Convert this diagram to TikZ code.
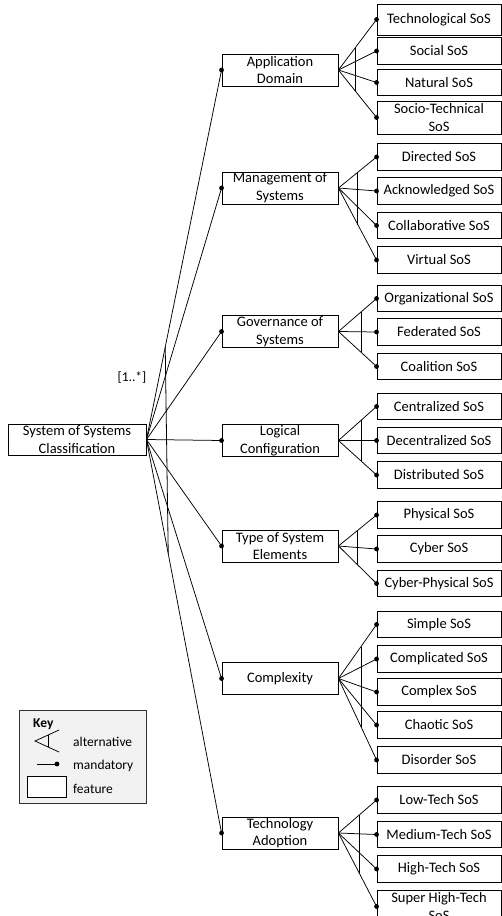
\documentclass[tikz,border=0pt]{standalone}
\usepackage{fontspec}
\setmainfont{Carlito}
\usetikzlibrary{calc}
\definecolor{keyfill}{RGB}{242,242,242}
\begin{document}
\begin{tikzpicture}[x=1pt,y=-1pt,
  feat/.style={draw=black, line width=0.9pt, fill=white, inner sep=0pt, align=center,
               font=\fontsize{14.5}{17.7}\selectfont},
  rootbox/.style={feat, minimum width=138pt, minimum height=31pt},
  midbox/.style={feat, minimum width=116pt, minimum height=32pt},
  leafbox/.style={feat, minimum width=124pt, minimum height=26.5pt},
  tallleaf/.style={leafbox, minimum height=33pt},
  link/.style={line width=0.75pt},
  altbar/.style={line width=0.8pt},
  keytext/.style={inner sep=0pt, anchor=west, font=\fontsize{13.5}{16}\selectfont}
]
\useasboundingbox (0,0) rectangle (501,916);

% root feature
\node[rootbox] (root) at (77,439.5) {System of Systems\\Classification};
\node[inner sep=0pt, font=\fontsize{13.5}{16}\selectfont] (card) at (132,378) {[1..*]};

% second level
\node[midbox] (pA) at (280,70)    {Application\\Domain};
\node[midbox] (pB) at (280,188)   {Management of\\Systems};
\node[midbox] (pC) at (280,331.5) {Governance of\\Systems};
\node[midbox] (pD) at (280,440.5) {Logical\\Configuration};
\node[midbox] (pE) at (280,546)   {Type of System\\Elements};
\node[midbox] (pF) at (280,678.5) {Complexity};
\node[midbox] (pG) at (280,833)   {Technology\\Adoption};

% leaves: application domain
\node[leafbox, minimum height=31pt] (a1) at (439,19.5) {Technological SoS};
\node[leafbox] (a2) at (439,51)   {Social SoS};
\node[leafbox] (a3) at (439,82.5) {Natural SoS};
\node[tallleaf] (a4) at (439,117.5) {Socio-Technical\\SoS};
% leaves: management
\node[leafbox] (b1) at (439,157)   {Directed SoS};
\node[leafbox] (b2) at (439,191)   {Acknowledged SoS};
\node[leafbox] (b3) at (439,225.5) {Collaborative SoS};
\node[leafbox] (b4) at (439,260)   {Virtual SoS};
% leaves: governance
\node[leafbox] (c1) at (439,298.5) {Organizational SoS};
\node[leafbox] (c2) at (439,332)   {Federated SoS};
\node[leafbox] (c3) at (439,366.5) {Coalition SoS};
% leaves: logical configuration
\node[leafbox] (d1) at (439,406.5) {Centralized SoS};
\node[leafbox] (d2) at (439,440.5) {Decentralized SoS};
\node[leafbox] (d3) at (439,475)   {Distributed SoS};
% leaves: type of system elements
\node[leafbox] (e1) at (439,515)   {Physical SoS};
\node[leafbox] (e2) at (439,549)   {Cyber SoS};
\node[leafbox] (e3) at (439,583.5) {Cyber-Physical SoS};
% leaves: complexity
\node[leafbox] (f1) at (439,624.5) {Simple SoS};
\node[leafbox] (f2) at (439,659)   {Complicated SoS};
\node[leafbox] (f3) at (439,692)   {Complex SoS};
\node[leafbox] (f4) at (439,725)   {Chaotic SoS};
\node[leafbox] (f5) at (439,760)   {Disorder SoS};
% leaves: technology adoption
\node[leafbox] (g1) at (439,800)   {Low-Tech SoS};
\node[leafbox] (g2) at (439,834.5) {Medium-Tech SoS};
\node[leafbox] (g3) at (439,869)   {High-Tech SoS};
\node[tallleaf] (g4) at (439,906.5) {Super High-Tech\\SoS};

% mandatory links from the root
\foreach \p in {pA,pB,pC,pD,pE,pF,pG}{
  \draw[link] (root.east) -- (\p.west);
  \fill (\p.west) circle (2.4pt);
}
% alternative bar across the root fan
\draw[altbar] ($(root.east)!0.25!(pA.west)$) -- ($(root.east)!0.29!(pG.west)$);

% links to the leaves
\foreach \p/\list in {pA/{a1,a2,a3,a4}, pB/{b1,b2,b3,b4}, pC/{c1,c2,c3},
    pD/{d1,d2,d3}, pE/{e1,e2,e3}, pF/{f1,f2,f3,f4,f5}, pG/{g1,g2,g3,g4}}{
  \foreach \c in \list{
    \draw[link] (\p.east) -- (\c.west);
    \fill (\c.west) circle (2.4pt);
  }
}
% alternative bars of the leaf groups
\draw[altbar] ($(pA.east)!0.44!(a1.west)$) -- ($(pA.east)!0.44!(a4.west)$);
\draw[altbar] ($(pB.east)!0.51!(b1.west)$) -- ($(pB.east)!0.51!(b4.west)$);
\draw[altbar] ($(pC.east)!0.59!(c1.west)$) -- ($(pC.east)!0.59!(c3.west)$);
\draw[altbar] ($(pD.east)!0.59!(d1.west)$) -- ($(pD.east)!0.59!(d3.west)$);
\draw[altbar] ($(pE.east)!0.49!(e1.west)$) -- ($(pE.east)!0.49!(e3.west)$);
\draw[altbar] ($(pF.east)!0.59!(f1.west)$) -- ($(pF.east)!0.59!(f5.west)$);
\draw[altbar] ($(pG.east)!0.56!(g1.west)$) -- ($(pG.east)!0.56!(g4.west)$);

% key
\node[draw=black!80, line width=0.8pt, fill=keyfill, minimum width=127pt, minimum height=93pt,
      inner sep=0pt] (key) at (82.5,756.5) {};
\node[keytext, font=\bfseries\fontsize{13.5}{16}\selectfont] (keytitle) at (33,724) {Key};
\coordinate (kapex) at (35,741);
\coordinate (kup) at (59,730);
\coordinate (klow) at (59,752);
\draw[link] (kup) -- (kapex) -- (klow);
\draw[link] ($(kapex)!0.55!(kup)$) -- ($(kapex)!0.55!(klow)$);
\node[keytext] (kalt) at (73,742) {alternative};
\coordinate (kmfrom) at (37,764);
\coordinate (kmto) at (57,764);
\draw[link] (kmfrom) -- (kmto);
\fill (kmto) circle (2.4pt);
\node[keytext] (kman) at (73,766) {mandatory};
\node[draw=black, line width=0.8pt, fill=white, minimum width=39pt, minimum height=21pt,
      inner sep=0pt] (kfeat) at (46.5,787) {};
\node[keytext] (kfeattext) at (73,789) {feature};
\end{tikzpicture}
\end{document}
